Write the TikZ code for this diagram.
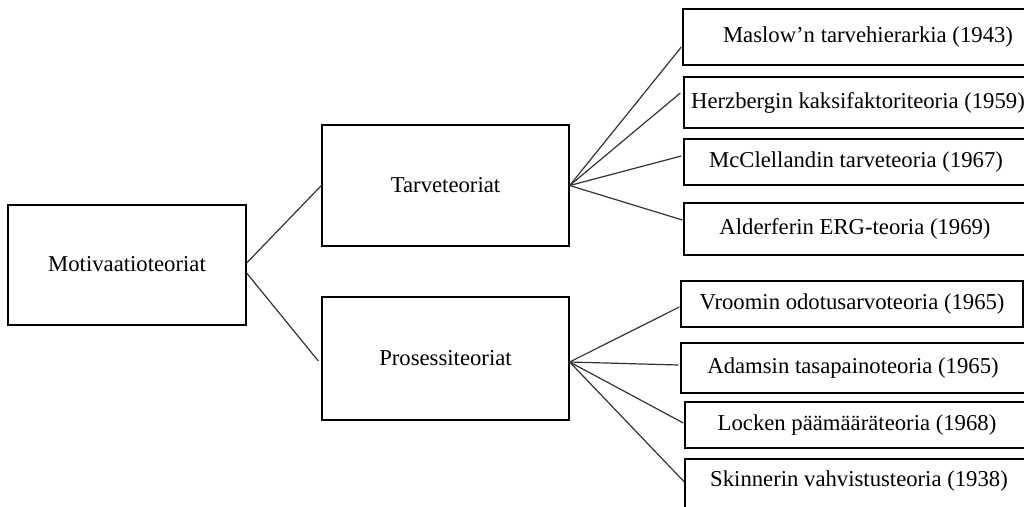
\documentclass[tikz,border=0pt]{standalone}
\usepackage{fontspec}
\setmainfont{Liberation Serif}
\begin{document}
\begin{tikzpicture}[x=1pt,y=-1pt,
  box/.style={draw=black, line width=1.3pt, rectangle, inner sep=0pt, align=center,
    font=\fontsize{22.7}{27}\selectfont},
  boxtext/.style={inner sep=0pt, font=\fontsize{22.7}{27}\selectfont},
  link/.style={draw=black!80, line width=1.2pt}]
\useasboundingbox (0,0) rectangle (1024,506);
\clip (0,0) rectangle (1024,506);

% root and the two main groups
\node[box, minimum width=238pt, minimum height=120pt] (mot) at (127,265) {\raisebox{2pt}{Motivaatioteoriat}};
\node[box, minimum width=247pt, minimum height=121pt] (tar) at (445.5,185.5) {\raisebox{-2pt}{Tarveteoriat}};
\node[box, minimum width=247pt, minimum height=123pt] (pro) at (445.5,358.5) {Prosessiteoriat};

% need theories
\node[box, minimum width=370pt, minimum height=56pt] (mas) at (868,37) {Maslow’n tarvehierarkia (1943)};
\node[box, minimum width=348pt, minimum height=51pt] (her) at (858,102.5) {Herzbergin kaksifaktoriteoria (1959)};
\node[box, minimum width=344pt, minimum height=46pt] (mcc) at (856,162) {McClellandin tarveteoria (1967)};
\node[box, minimum width=342pt, minimum height=52pt] (ald) at (855,229) {Alderferin ERG-teoria (1969)};

% process theories (the last box runs past the lower edge)
\node[box, minimum width=342pt, minimum height=46pt] (vro) at (852,304) {Vroomin odotusarvoteoria (1965)};
\node[box, minimum width=344pt, minimum height=50pt] (ada) at (853,368) {Adamsin tasapainoteoria (1965)};
\node[box, minimum width=344pt, minimum height=46pt] (loc) at (857,425) {Locken päämääräteoria (1968)};
\node[box, minimum width=348pt, minimum height=62pt] (ski) at (859,490) {};
\node[boxtext] (skitext) at ([yshift=9pt]ski.center) {Skinnerin vahvistusteoria (1938)};

% connectors
\draw[link] ([yshift=2pt]mot.east) -- (tar.west);
\draw[link] ([yshift=-8pt]mot.east) -- ([xshift=-3pt,yshift=-2.5pt]pro.west);

\draw[link] (tar.east) -- ([xshift=-1pt,yshift=-10pt]mas.west);
\draw[link] (tar.east) -- ([xshift=-3pt,yshift=9.5pt]her.west);
\draw[link] (tar.east) -- ([xshift=-2pt,yshift=6pt]mcc.west);
\draw[link] (tar.east) -- ([xshift=-1pt,yshift=9pt]ald.west);

\draw[link] ([yshift=-3.5pt]pro.east) -- ([xshift=-1pt,yshift=-3pt]vro.west);
\draw[link] ([yshift=-3.5pt]pro.east) -- ([xshift=-2pt,yshift=3pt]ada.west);
\draw[link] ([yshift=-3.5pt]pro.east) -- ([xshift=-1pt,yshift=2pt]loc.west);
\draw[link] ([yshift=-3.5pt]pro.east) -- ([yshift=8pt]ski.west);
\end{tikzpicture}
\end{document}
